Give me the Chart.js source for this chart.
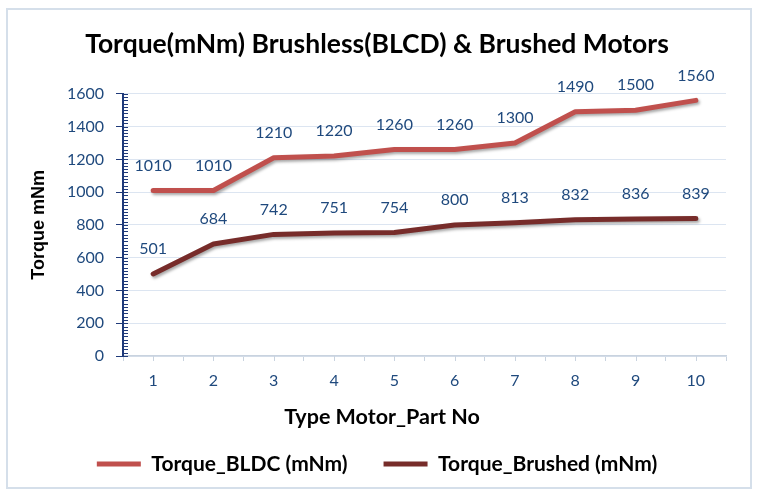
<!DOCTYPE html>
<html>
<head>
<meta charset="utf-8">
<title>Torque(mNm) Brushless(BLCD) & Brushed Motors</title>
<script src="https://cdn.jsdelivr.net/npm/chart.js@4.4.1/dist/chart.umd.min.js"></script>
<style>
  html, body { margin: 0; padding: 0; background: #ffffff; }
  #wrap { width: 758px; height: 497px; }
</style>
</head>
<body>
<div id="wrap"><canvas id="torqueChart" width="758" height="497"></canvas></div>
<script>
  // data
  const partNumbers = ["1", "2", "3", "4", "5", "6", "7", "8", "9", "10"];
  const torqueBLDC = [1010, 1010, 1210, 1220, 1260, 1260, 1300, 1490, 1500, 1560];
  const torqueBrushed = [501, 684, 742, 751, 754, 800, 813, 832, 836, 839];
  const yMin = 0, yMax = 1600, yStep = 200, yMinorStep = 20;

  const labelFont = "Lato, 'Open Sans', sans-serif";
  const labelBlue = "#1f497d";

  // white background + light blue frame round the whole chart
  const framePlugin = {
    id: "frame",
    beforeDraw(chart) {
      const c = chart.ctx;
      c.save();
      c.fillStyle = "#ffffff";
      c.fillRect(0, 0, chart.width, chart.height);
      c.strokeStyle = "#d5dfea";
      c.lineWidth = 2;
      c.strokeRect(7, 9, chart.width - 14, chart.height - 18);
      c.restore();
    }
  };

  // soft shadow under the lines (like the Excel effect)
  const shadowPlugin = {
    id: "lineShadow",
    beforeDatasetDraw(chart) {
      const c = chart.ctx;
      c.save();
      c.shadowColor = "rgba(0,0,0,0.35)";
      c.shadowBlur = 3;
      c.shadowOffsetX = 1.5;
      c.shadowOffsetY = 2;
    },
    afterDatasetDraw(chart) {
      chart.ctx.restore();
    }
  };

  // minor ticks on y axis, center ticks on x axis
  const minorTicksPlugin = {
    id: "minorTicks",
    afterDraw(chart) {
      const c = chart.ctx;
      const y = chart.scales.y, x = chart.scales.x;
      c.save();
      c.strokeStyle = "#1f3a7a";
      c.lineWidth = 1;
      for (let v = yMin; v <= yMax; v += yMinorStep) {
        const py = Math.round(y.getPixelForValue(v)) + 0.5;
        c.beginPath();
        c.moveTo(x.left, py);
        c.lineTo(x.left + 5, py);
        c.stroke();
      }
      c.strokeStyle = "#c9d3df";
      partNumbers.forEach((p, i) => {
        const px = Math.round(x.getPixelForValue(i)) + 0.5;
        c.beginPath();
        c.moveTo(px, y.bottom);
        c.lineTo(px, y.bottom + 5);
        c.stroke();
      });
      c.restore();
    }
  };

  // value labels above each point
  const valueLabelsPlugin = {
    id: "valueLabels",
    afterDatasetsDraw(chart) {
      const c = chart.ctx;
      c.save();
      c.font = "16px " + labelFont;
      c.fillStyle = labelBlue;
      c.textAlign = "center";
      c.textBaseline = "middle";
      chart.data.datasets.forEach((ds, di) => {
        chart.getDatasetMeta(di).data.forEach((pt, i) => {
          c.fillText(ds.data[i], pt.x, pt.y - 25);
        });
      });
      c.restore();
    }
  };

  // x axis title, centred on the whole chart like the original
  const xTitlePlugin = {
    id: "xTitle",
    afterDraw(chart) {
      const c = chart.ctx;
      c.save();
      c.font = "bold 21.5px " + labelFont;
      c.fillStyle = "#000000";
      c.textAlign = "center";
      c.textBaseline = "middle";
      c.fillText("Type Motor_Part No", chart.width / 2 + 3, chart.scales.x.bottom);
      c.restore();
    }
  };

  new Chart(document.getElementById("torqueChart"), {
    type: "line",
    data: {
      labels: partNumbers,
      datasets: [{
        label: "Torque_BLDC (mNm)",
        data: torqueBLDC,
        borderColor: "#c0504d",
        backgroundColor: "#c0504d",
        borderWidth: 5,
        borderCapStyle: "round",
        borderJoinStyle: "round",
        pointRadius: 0,
        tension: 0
      }, {
        label: "Torque_Brushed (mNm)",
        data: torqueBrushed,
        borderColor: "#772c2a",
        backgroundColor: "#772c2a",
        borderWidth: 5,
        borderCapStyle: "round",
        borderJoinStyle: "round",
        pointRadius: 0,
        tension: 0
      }]
    },
    options: {
      responsive: false,
      animation: false,
      devicePixelRatio: 1,
      layout: { padding: { left: 28, right: 32, top: 0, bottom: 12.5 } },
      scales: {
        x: {
          offset: true,
          grid: {
            offset: true,
            drawOnChartArea: false,
            color: "#c9d3df",
            tickLength: 5
          },
          border: { color: "#c9d3df", width: 1.5 },
          ticks: {
            color: labelBlue,
            font: { family: labelFont, size: 16 },
            padding: 10
          },
          afterFit(s) { s.height = 61.5; }
        },
        y: {
          min: yMin,
          max: yMax,
          ticks: {
            stepSize: yStep,
            color: labelBlue,
            font: { family: labelFont, size: 16 },
            padding: 12,
            callback: (v) => String(v)
          },
          grid: {
            color: "#dce5f1",
            lineWidth: 1,
            tickColor: "#1f3a7a",
            tickLength: 7
          },
          border: { color: "#1f3a7a", width: 2 },
          title: {
            display: true,
            text: "Torque mNm",
            color: "#000000",
            font: { family: "'Liberation Sans', Arial, sans-serif", size: 18, weight: "bold" },
            padding: { top: 0, bottom: 0 }
          },
          afterFit(s) { s.width = 95; }
        }
      },
      plugins: {
        title: {
          display: true,
          text: "Torque(mNm) Brushless(BLCD) & Brushed Motors",
          color: "#000000",
          font: { family: labelFont, size: 26.5, weight: "bold" },
          padding: { top: 29, bottom: 33 }
        },
        legend: {
          position: "bottom",
          labels: {
            color: "#000000",
            font: { family: labelFont, size: 21, weight: "bold" },
            usePointStyle: true,
            pointStyle: "line",
            pointStyleWidth: 44,
            padding: 36
          }
        },
        tooltip: { enabled: false }
      }
    },
    plugins: [framePlugin, shadowPlugin, minorTicksPlugin, valueLabelsPlugin, xTitlePlugin]
  });
</script>
</body>
</html>
